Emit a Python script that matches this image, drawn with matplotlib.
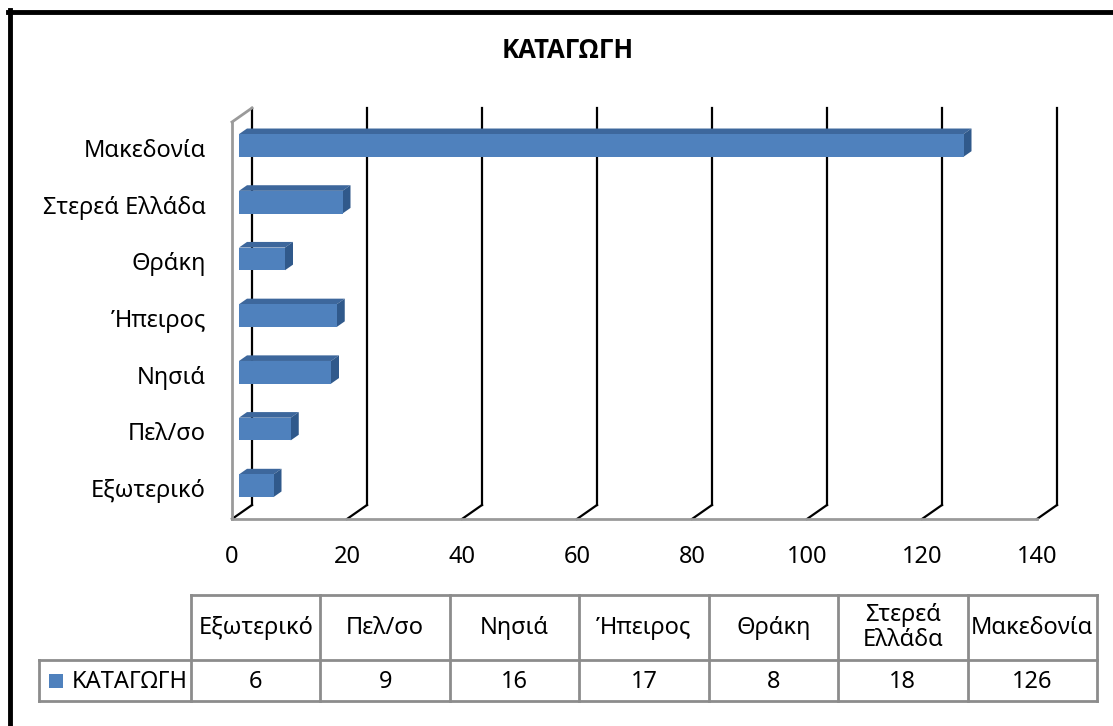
import numpy as np
import matplotlib
matplotlib.use('Agg')
import matplotlib.pyplot as plt
from matplotlib.patches import Polygon, Rectangle
from matplotlib.lines import Line2D
from matplotlib.transforms import ScaledTranslation

plt.rcParams['font.family'] = ['Noto Sans', 'DejaVu Sans']

title = 'ΚΑΤΑΓΩΓΗ'
categories = ['Εξωτερικό', 'Πελ/σο', 'Νησιά', 'Ήπειρος', 'Θράκη', 'Στερεά Ελλάδα', 'Μακεδονία']
table_headers = ['Εξωτερικό', 'Πελ/σο', 'Νησιά', 'Ήπειρος', 'Θράκη', 'Στερεά\nΕλλάδα', 'Μακεδονία']
values = [6, 9, 16, 17, 8, 18, 126]
xticks = [0, 20, 40, 60, 80, 100, 120, 140]

W, H = 1113, 726
fig = plt.figure(figsize=(W / 100, H / 100), dpi=100)
fig.patch.set_facecolor('white')


def fx(px):
    return px / W


def fy(py):
    return 1 - py / H


# outer black frame (only top/left edges fall inside the image)
fig.add_artist(Line2D([fx(10), fx(10)], [fy(10), fy(H + 5)], color='black', lw=3.5))
fig.add_artist(Line2D([fx(8), fx(W + 5)], [fy(12), fy(12)], color='black', lw=3.5))

# front plane of the 3-D plot area
left, right, top, bottom = 232, 1037, 122, 519
ax = fig.add_axes([fx(left), fy(bottom), fx(right - left), (bottom - top) / H])
ax.set_xlim(0, 140)
ax.set_ylim(-0.5, len(categories) - 0.5)
ax.axis('off')

# depth of the 3-D box expressed in data units
DX = 20 / ((right - left) / 140)
DY = 14 / ((bottom - top) / len(categories))
y0, y1 = -0.5, len(categories) - 0.5
grey = '#9a9a9a'

for t in xticks:
    ax.plot([t + DX, t + DX], [y0 + DY, y1 + DY], color='black', lw=1.6, zorder=1, clip_on=False)
    ax.plot([t, t + DX], [y0, y0 + DY], color='black', lw=1.6, zorder=1, clip_on=False)
    ax.text(t, y0, str(t), transform=ax.transData + ScaledTranslation(0, -0.44, fig.dpi_scale_trans),
            ha='center', va='baseline', fontsize=17)

ax.plot([0, 140], [y0, y0], color=grey, lw=2, zorder=2, clip_on=False)
ax.plot([0, 0], [y0, y1], color=grey, lw=2, zorder=2, clip_on=False)
ax.plot([0, DX], [y1, y1 + DY], color=grey, lw=2, zorder=2, clip_on=False)

# 3-D bars
f0, f1, hb = 0.35, 0.75, 0.2
c_front, c_top, c_side = '#4F81BD', '#3D679C', '#30598B'
for i, v in enumerate(values):
    ax0, ay0 = f0 * DX, i + f0 * DY
    ax1, ay1 = f1 * DX, i + f1 * DY
    ax.add_patch(Polygon([(ax0, ay0 + hb), (v + ax0, ay0 + hb), (v + ax1, ay1 + hb), (ax1, ay1 + hb)],
                         closed=True, fc=c_top, ec='none', zorder=3, clip_on=False))
    ax.add_patch(Polygon([(v + ax0, ay0 - hb), (v + ax0, ay0 + hb), (v + ax1, ay1 + hb), (v + ax1, ay1 - hb)],
                         closed=True, fc=c_side, ec='none', zorder=3, clip_on=False))
    ax.add_patch(Rectangle((ax0, ay0 - hb), v, 2 * hb, fc=c_front, ec='none', zorder=4, clip_on=False))
    ax.text(0, i, categories[i],
            transform=ax.transData + ScaledTranslation(-0.26, -0.065, fig.dpi_scale_trans),
            ha='right', va='baseline', fontsize=17)

fig.text(fx(568), fy(58), title, ha='center', va='baseline', fontsize=18.5, fontweight='bold',
         family=['Open Sans', 'DejaVu Sans'])

# data table under the chart
col_edges = np.linspace(191, 1097, len(values) + 1)
lab_left = 39
t_top, t_mid, t_bot = 595, 660, 701
tc = '#8c8c8c'
for yy, xs in [(t_top, col_edges[0]), (t_mid, lab_left), (t_bot, lab_left)]:
    fig.add_artist(Line2D([fx(xs), fx(col_edges[-1])], [fy(yy), fy(yy)], color=tc, lw=2))
for xx in col_edges:
    fig.add_artist(Line2D([fx(xx), fx(xx)], [fy(t_top), fy(t_bot)], color=tc, lw=2))
fig.add_artist(Line2D([fx(lab_left), fx(lab_left)], [fy(t_mid), fy(t_bot)], color=tc, lw=2))

for j, (hd, v) in enumerate(zip(table_headers, values)):
    cx = (col_edges[j] + col_edges[j + 1]) / 2
    fig.text(fx(cx), fy((t_top + t_mid) / 2), hd, ha='center', va='center', fontsize=17, linespacing=1.05)
    fig.text(fx(cx), fy((t_mid + t_bot) / 2 + 8), str(v), ha='center', va='baseline', fontsize=17)

fig.add_artist(Rectangle((fx(49), fy(688)), fx(14), 14 / H, fc=c_front, ec='none'))
fig.text(fx(72), fy((t_mid + t_bot) / 2 + 8), title, ha='left', va='baseline', fontsize=17)

fig.savefig('out.png', dpi=100, facecolor='white')
